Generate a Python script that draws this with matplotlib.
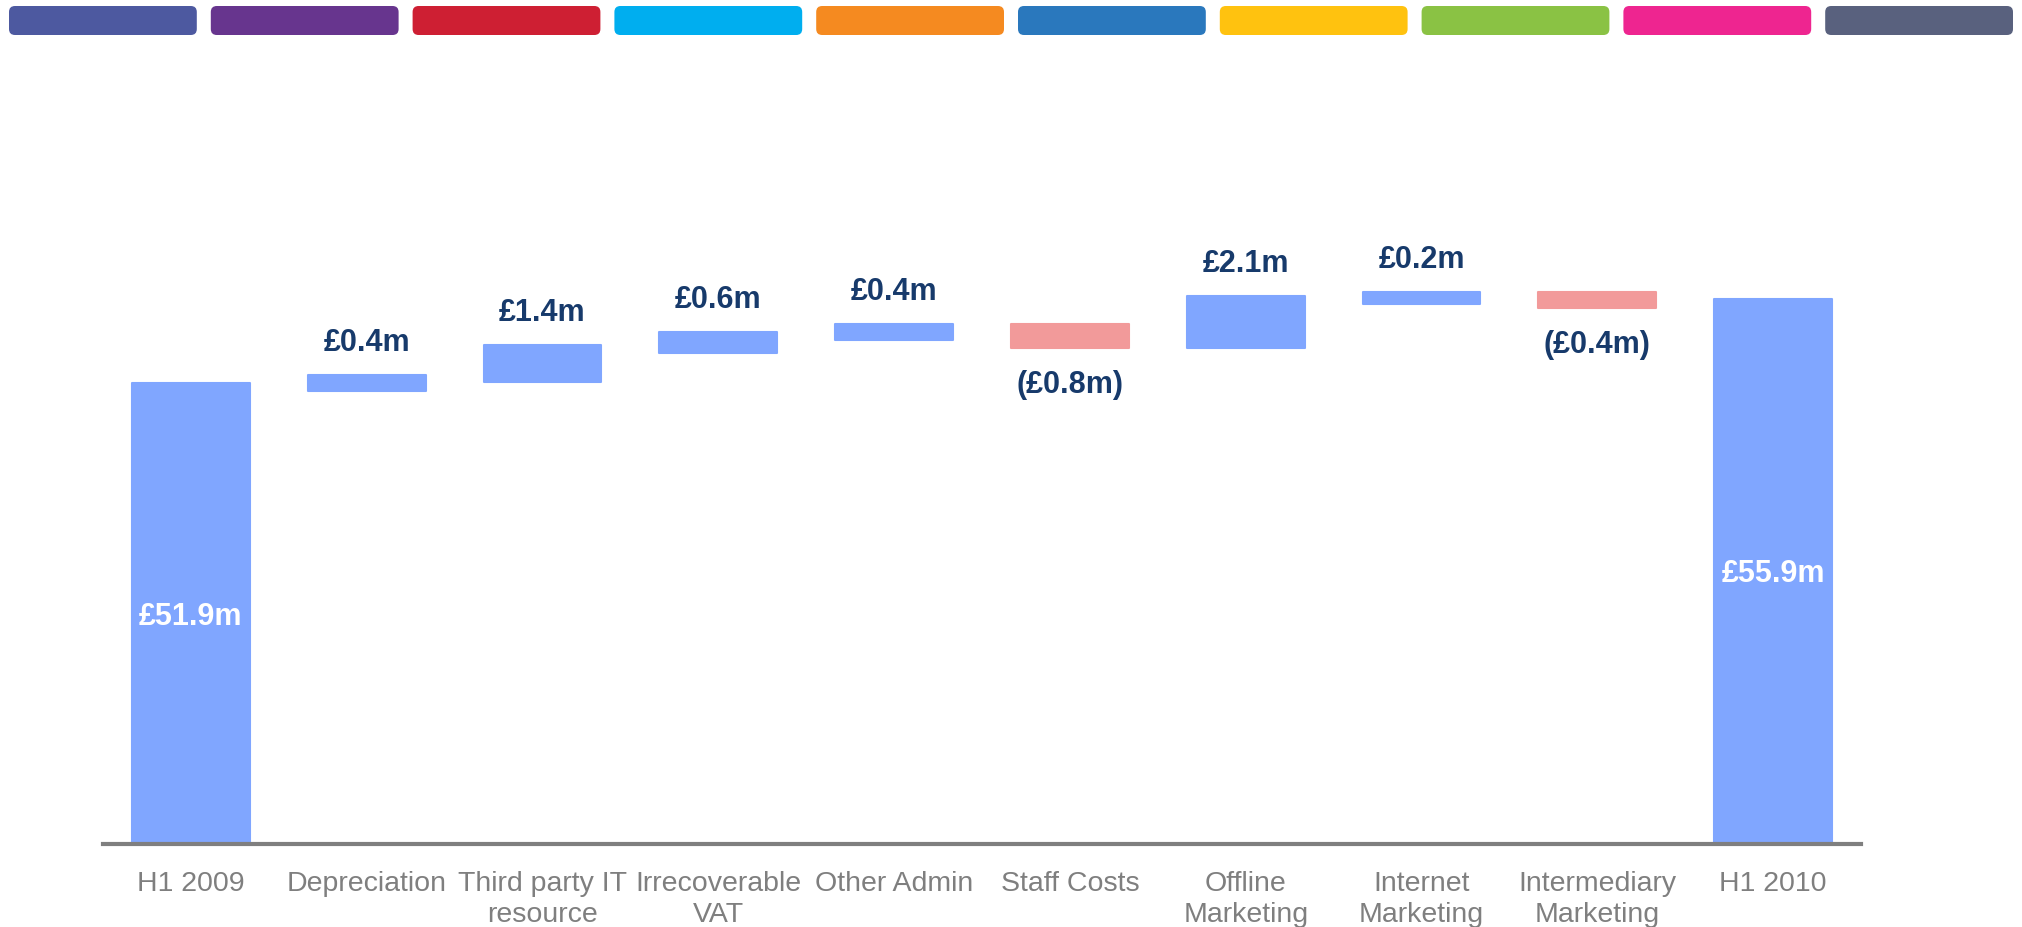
import matplotlib
matplotlib.use("Agg")
import matplotlib.pyplot as plt
from matplotlib.patches import FancyBboxPatch

# --- DATA ---
categories = ["H1 2009", "Depreciation", "Third party IT\nresource", "Irrecoverable\nVAT",
              "Other Admin", "Staff Costs", "Offline\nMarketing", "Internet\nMarketing",
              "Intermediary\nMarketing", "H1 2010"]
start_total = 51.9
changes = [0.4, 1.4, 0.6, 0.4, -0.8, 2.1, 0.2, -0.4]
end_total = 55.9

strip_colors = ["#4D59A0", "#67358E", "#CE1F33", "#00AEEF", "#F58A20",
                "#2A78BD", "#FFC20F", "#8AC244", "#EE2590", "#59617E"]

# --- STYLE ---
UP_COLOR = "#80A6FF"
DOWN_COLOR = "#F29A9A"
LABEL_COLOR = "#173A6B"
TICK_COLOR = "#7F7F7F"
BAR_WIDTH = 0.67
PAD = 0.35          # extra thickness so small steps stay visible
Y_MIN, Y_MAX = 30.17, 62.17

plt.rcParams['font.family'] = ['Liberation Sans', 'DejaVu Sans']

W, H = 2022, 928
fig = plt.figure(figsize=(W / 100, H / 100), dpi=100)

# --- colour strip along the top ---
strip = fig.add_axes([0, 1 - 40 / H, 1, 40 / H])
strip.set_xlim(0, W)
strip.set_ylim(40, 0)
strip.axis("off")
pitch = (W - 4) / len(strip_colors)
for i, c in enumerate(strip_colors):
    strip.add_patch(FancyBboxPatch((9 + i * pitch + 4, 11), pitch - 22, 21,
                                   boxstyle="round,pad=4,rounding_size=6",
                                   facecolor=c, edgecolor="none"))

# --- waterfall ---
ax = fig.add_axes([103 / W, 1 - 845 / H, (1861 - 103) / W, (845 - 166.6) / H])
ax.set_xlim(-0.5, len(categories) - 0.5)
ax.set_ylim(Y_MIN, Y_MAX)

# totals
for x, total in [(0, start_total), (len(categories) - 1, end_total)]:
    ax.bar(x, total, width=BAR_WIDTH, color=UP_COLOR, edgecolor=UP_COLOR,
           linewidth=1.5, joinstyle="round")
    ax.text(x, (Y_MIN + total) / 2 - 0.1, f"£{total:.1f}m", color="white",
            fontsize=22, fontweight="bold", ha="center", va="center")

# steps
level = start_total
for i, delta in enumerate(changes, start=1):
    new_level = level + delta
    lo, hi = min(level, new_level), max(level, new_level)
    color = UP_COLOR if delta > 0 else DOWN_COLOR
    ax.bar(i, hi - lo + PAD, bottom=lo - PAD, width=BAR_WIDTH, color=color,
           edgecolor=color, linewidth=1.5, joinstyle="round")
    if delta > 0:
        ax.annotate(f"£{delta:.1f}m", (i, hi), xytext=(0, 24), textcoords="offset points",
                    ha="center", va="center", fontsize=22, fontweight="bold",
                    color=LABEL_COLOR)
    else:
        ax.annotate(f"(£{abs(delta):.1f}m)", (i, lo - PAD), xytext=(0, -26),
                    textcoords="offset points", ha="center", va="center",
                    fontsize=22, fontweight="bold", color=LABEL_COLOR)
    level = new_level

# axes formatting
for side in ["top", "right", "left"]:
    ax.spines[side].set_visible(False)
ax.spines["bottom"].set_color(TICK_COLOR)
ax.spines["bottom"].set_linewidth(3)
ax.set_yticks([])
ax.set_xticks(range(len(categories)))
ax.set_xticklabels(categories, fontsize=20.5, color=TICK_COLOR)
ax.tick_params(axis="x", length=0, pad=18.5)
for lbl in ax.get_xticklabels():
    lbl.set_linespacing(1.25)

fig.savefig("out.png", dpi=100, facecolor="white")
